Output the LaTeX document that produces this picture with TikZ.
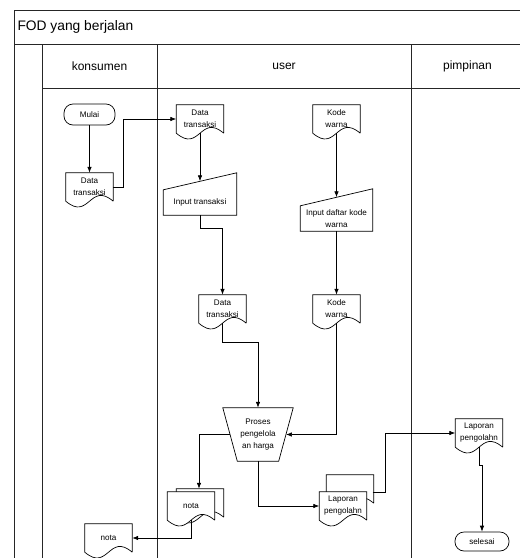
\documentclass[tikz,border=0pt]{standalone}
\usepackage{fontspec}
\setmainfont{Liberation Sans}
\usetikzlibrary{arrows.meta,calc,backgrounds}
\newcommand{\boxfont}{\fontsize{8.1}{12}\selectfont}
\tikzset{
  lane/.style={line width=0.8pt, draw=black!85},
  flow/.style={-{Latex[length=6pt,width=4.5pt]}, line width=0.7pt},
  shapeline/.style={draw, fill=white, line width=0.7pt},
  terminal/.style={draw, line width=0.7pt, rounded corners=9pt, inner sep=0pt, font=\boxfont},
  docbox/.style={minimum width=47pt, minimum height=28pt, inner sep=0pt, align=center, font=\boxfont},
  inbox/.style={minimum width=73pt, minimum height=25pt, inner sep=0pt, align=center, font=\boxfont},
  opbox/.style={minimum width=70pt, minimum height=53pt, inner sep=0pt, align=center, font=\boxfont}
}
\newcommand{\drawdoc}[1]{\draw[shapeline] (#1.south east) -- (#1.north east) -- (#1.north west) -- (#1.south west) .. controls +(23.5,20) and +(-23.5,-20) .. (#1.south east);}
\newcommand{\drawbackdoc}[3]{\draw[shapeline] ([shift={(#2,#3)}]#1.south east) -- ([shift={(#2,#3)}]#1.north east) -- ([shift={(#2,#3)}]#1.north west) -- ([shift={(#2,#3)}]#1.south west) .. controls +(23.5,20) and +(-23.5,-20) .. ([shift={(#2,#3)}]#1.south east);}
\begin{document}
\begin{tikzpicture}[x=1pt,y=-1pt]
  \useasboundingbox (0,0) rectangle (520,558);
  \clip (0,0) rectangle (520,558);
  % lanes
  \draw[lane] (14,570) -- (14,10) -- (530,10);
  \draw[lane] (14,44) -- (530,44);
  \draw[lane] (42,88) -- (530,88);
  \draw[lane] (42,44) -- (42,570);
  \draw[lane] (157,44) -- (157,570);
  \draw[lane] (411,44) -- (411,570);
  \node[anchor=west, font=\fontsize{13.8}{16}\selectfont] (judul) at (14,27) {FOD yang berjalan};
  \node[font=\fontsize{12}{14}\selectfont] (konsumen) at (99.5,66) {konsumen};
  \node[font=\fontsize{12}{14}\selectfont] (user) at (284,66) {user};
  \node[font=\fontsize{12}{14}\selectfont] (pimpinan) at (467.5,66) {pimpinan};
  % nodes
  \node[terminal, minimum width=51pt, minimum height=21pt] (mulai) at (89.5,114.5) {Mulai};
  \node[docbox] (dtkons) at (89.5,187) {Data\\transaksi};
  \node[docbox] (dtuser) at (200,119) {Data\\transaksi};
  \node[inbox] (inpdt) at (200,202.5) {Input transaksi};
  \node[docbox] (dtproses) at (222.5,309) {Data\\transaksi};
  \node[docbox] (kwuser) at (336.5,119) {Kode\\warna};
  \node[inbox, minimum width=72pt] (inpkw) at (336.5,218.5) {Input daftar kode\\warna};
  \node[docbox] (kwproses) at (336.5,309) {Kode\\warna};
  \node[opbox] (proses) at (258,434.5) {Proses\\pengelola\\an harga};
  \node[docbox] (notauser) at (191,506) {nota};
  \node[docbox] (notakons) at (108.5,538) {nota};
  \node[docbox] (lapuser) at (343,506) {Laporan\\pengolahn};
  \node[docbox] (lappimp) at (479,433) {Laporan\\pengolahn};
  \node[terminal, minimum width=54pt, minimum height=19pt] (selesai) at (482,541.5) {selesai};
  % outlines
  \begin{scope}[on background layer]
    \drawbackdoc{notauser}{9}{-3}
    \drawbackdoc{lapuser}{7}{-17}
    \drawdoc{dtkons}
    \drawdoc{dtuser}
    \drawdoc{dtproses}
    \drawdoc{kwuser}
    \drawdoc{kwproses}
    \drawdoc{notauser}
    \drawdoc{notakons}
    \drawdoc{lapuser}
    \drawdoc{lappimp}
    \draw[shapeline] (inpdt.south west) -- (inpdt.north west) -- ($(inpdt.north east)+(0,-17)$) -- (inpdt.south east) -- cycle;
    \draw[shapeline] (inpkw.south west) -- (inpkw.north west) -- ($(inpkw.north east)+(0,-17)$) -- (inpkw.south east) -- cycle;
    \draw[shapeline] (proses.north west) -- (proses.north east) -- ($(proses.south east)+(-14.5,0)$) -- ($(proses.south west)+(14.5,0)$) -- cycle;
  \end{scope}
  % connectors
  \draw[flow] (mulai) -- (dtkons);
  \draw[flow] (dtkons.east) -- ++(10,0) |- (dtuser.west);
  \draw[flow] (dtuser.south) -- ($(inpdt.north)+(0,-8.5)$);
  \draw[flow] (inpdt.south) -- ++(0,13) -| (dtproses.north);
  \draw[flow] (dtproses.south) -- ++(0,19) -| (proses.north);
  \draw[flow] (kwuser.south) -- ($(inpkw.north)+(0,-8.5)$);
  \draw[flow] (inpkw.south) -- (kwproses.north);
  \draw[flow] (kwproses.south) |- ($(proses.east)+(-7.25,0)$);
  \draw[flow] ($(proses.west)+(7.25,0)$) -| ($(notauser.north)+(8,-3)$);
  \draw[flow] (notauser.south) |- (notakons.east);
  \draw[flow] (proses.south) |- (lapuser.west);
  \draw[flow] ($(lapuser.east)+(6,-14)$) -- ++(13,0) |- (lappimp.west);
  \draw[flow] (lappimp.south) -- ++(0,18) -| (selesai.north);
\end{tikzpicture}
\end{document}
